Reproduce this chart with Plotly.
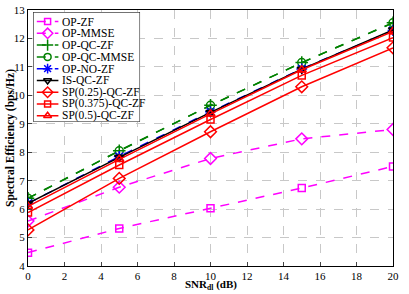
import plotly.graph_objects as go

snr = [0, 5, 10, 15, 20]
op_zf = [4.47, 5.32, 6.03, 6.74, 7.5]
op_mmse = [5.58, 6.77, 7.78, 8.47, 8.8]
op_qc_zf = [6.38, 8.05, 9.65, 11.15, 12.55]
op_qc_mmse = [6.38, 8.05, 9.65, 11.15, 12.55]
op_no_zf = [6.2, 7.85, 9.42, 10.93, 12.28]
is_qc_zf = [6.2, 7.82, 9.4, 10.92, 12.3]
sp025 = [5.27, 7.08, 8.72, 10.3, 11.67]
sp0375 = [5.88, 7.55, 9.15, 10.7, 12.03]
sp05 = [6.1, 7.75, 9.35, 10.9, 12.25]

x_ticks = [0, 2, 4, 6, 8, 10, 12, 14, 16, 18, 20]
y_ticks = [4, 5, 6, 7, 8, 9, 10, 11, 12, 13]

series = [
    ("OP-ZF", op_zf, "#ff00ff", "dash", "square-open", 7),
    ("OP-MMSE", op_mmse, "#ff00ff", "dash", "diamond-open", 9),
    ("OP-QC-ZF", op_qc_zf, "#008000", "dash", "cross-thin-open", 9),
    ("OP-QC-MMSE", op_qc_mmse, "#008000", "dash", "circle-open", 8),
    ("OP-NO-ZF", op_no_zf, "#0000ff", "dash", "asterisk-open", 9),
    ("IS-QC-ZF", is_qc_zf, "#000000", "solid", "triangle-down-open", 8),
    ("SP(0.25)-QC-ZF", sp025, "#ff0000", "solid", "diamond-open", 9),
    ("SP(0.375)-QC-ZF", sp0375, "#ff0000", "solid", "square-open", 7),
    ("SP(0.5)-QC-ZF", sp05, "#ff0000", "solid", "triangle-up-open", 8),
]

font = "Liberation Serif, Times New Roman, serif"
fig = go.Figure()
for name, vals, color, dash, sym, size in series:
    fig.add_trace(go.Scatter(
        x=snr, y=vals, name=name, mode="lines+markers", showlegend=False,
        line=dict(color=color, dash=dash, width=1.5),
        marker=dict(symbol=sym, size=size, color=color, line=dict(color=color, width=1.5)),
    ))

# custom compact legend drawn on an overlay axis (units: legend-box pixels)
box_w, box_h = 107, 110
row0, row_h = 9.5, 11.8
line_x0, line_x1, text_x = 3.7, 25.3, 27.0
fig.add_trace(go.Scatter(
    x=[0, box_w, box_w, 0, 0], y=[0, 0, box_h, box_h, 0], mode="lines",
    fill="toself", fillcolor="white", line=dict(color="black", width=1),
    showlegend=False, hoverinfo="skip", cliponaxis=False, xaxis="x2", yaxis="y2"))
for i, (name, vals, color, dash, sym, size) in enumerate(series):
    yy = row0 + i * row_h
    fig.add_trace(go.Scatter(
        x=[line_x0, line_x1], y=[yy, yy], mode="lines", showlegend=False, hoverinfo="skip",
        line=dict(color=color, dash=dash, width=1.5), xaxis="x2", yaxis="y2"))
    fig.add_trace(go.Scatter(
        x=[(line_x0 + line_x1) / 2], y=[yy], mode="markers", showlegend=False,
        hoverinfo="skip", cliponaxis=False,
        marker=dict(symbol=sym, size=size - 1, color=color, line=dict(color=color, width=1.5)),
        xaxis="x2", yaxis="y2"))
    fig.add_annotation(x=text_x, y=yy, xref="x2", yref="y2", text=name, showarrow=False,
                       xanchor="left", yanchor="middle", font=dict(size=11.5, family=font))

fig.update_layout(
    width=409, height=294,
    margin=dict(l=28, r=16, t=10, b=28),
    paper_bgcolor="white", plot_bgcolor="white",
    font=dict(family=font, size=11, color="black"),
    showlegend=False,
    xaxis=dict(range=[0, 20], tickvals=x_ticks, showgrid=True, automargin=False,
               gridcolor="#c8c8c8", griddash="dash", gridwidth=1,
               showline=True, linecolor="black", linewidth=1, mirror=True,
               ticks="inside", ticklen=4, zeroline=False, tickfont=dict(size=11)),
    yaxis=dict(range=[4, 13], tickvals=y_ticks, showgrid=True, automargin=False,
               gridcolor="#c8c8c8", griddash="dash", gridwidth=1,
               showline=True, linecolor="black", linewidth=1, mirror=True,
               ticks="inside", ticklen=4, zeroline=False, tickfont=dict(size=11)),
    xaxis2=dict(domain=[0.014, 0.307], range=[0, box_w], visible=False, anchor="y2"),
    yaxis2=dict(domain=[0.563, 0.992], range=[box_h, 0], visible=False, anchor="x2"),
)
fig.add_annotation(x=0.5, y=0, xref="paper", yref="paper", yanchor="top", yshift=-10,
                   text="<b>SNR<sub>dl</sub> (dB)</b>", showarrow=False,
                   font=dict(size=11, family=font))
fig.add_annotation(x=0, y=0.5, xref="paper", yref="paper", xanchor="center", yanchor="middle",
                   xshift=-18, textangle=-90,
                   text="<b>Spectral Efficiency (bps/Hz)</b>", showarrow=False,
                   font=dict(size=11.5, family=font))

fig.write_html("out.html", config={"displayModeBar": False},
               post_script="document.body.style.margin='0';document.body.style.overflow='hidden';")
